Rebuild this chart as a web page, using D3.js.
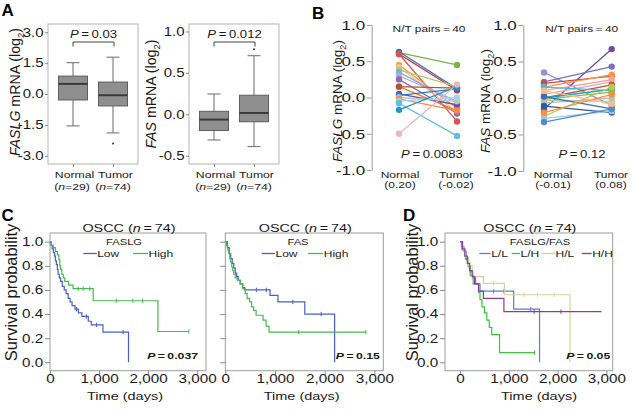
<!DOCTYPE html>
<html><head><meta charset="utf-8">
<script src="https://cdn.jsdelivr.net/npm/d3@7"></script>
<style>body{margin:0;background:#fff}svg{display:block}</style>
</head><body>
<script>
// ================= DATA =================
const groups = ["Normal", "Tumor"];
const groupN = ["29", "74"];
// boxplot stats per group: [lower whisker, Q1, median, Q3, upper whisker]
const faslgBox = [[-1.55, -0.29, 0.49, 0.87, 1.52], [-1.89, -0.58, -0.06, 0.58, 1.79]];
const faslgOutliers = [[], [-2.4]];
const fasBox = [[-0.31, -0.196, -0.064, 0.036, 0.245], [-0.39, -0.09, 0.016, 0.23, 0.707]];
const fasOutliers = [[], [0.785]];
const faslgTicksA = [-3, -1.5, 0, 1.5, 3];
const fasTicksA = [-0.5, 0, 0.5, 1.0];
const pValuesA = ["0.03", "0.012"];

// panel B: paired samples
const pairFaslgNormal = [0.62, 0.63, 0.60, 0.60, 0.45, 0.42, 0.38, 0.35, 0.30, 0.25, 0.15, 0.15, 0.05, 0.03, 0.00, -0.02, -0.05, -0.08, -0.17, -0.50];
const pairFaslgTumor  = [0.45, 0.12, 0.10, -0.33, -0.15, -0.20, 0.15, -0.08, -0.05, -0.22, -0.18, 0.13, -0.10, 0.12, -0.05, -0.18, 0.00, -0.53, 0.15, 0.18];
const pairFasNormal = [0.35, -0.15, 0.22, 0.20, 0.15, 0.10, 0.05, 0.00, 0.00, 0.15, -0.02, -0.03, -0.07, 0.02, -0.11, -0.25, -0.28, -0.33, -0.20, 0.10];
const pairFasTumor  = [-0.10, 0.67, 0.43, 0.30, 0.32, 0.25, 0.22, 0.18, 0.12, 0.10, 0.08, -0.05, 0.00, -0.15, -0.20, 0.15, -0.18, -0.15, 0.05, -0.08];
const pairMeansFaslg = ["0.20", "-0.02"];
const pairMeansFas = ["-0.01", "0.08"];
const pairCount = "40";
const pairTicks = [-1, -0.5, 0, 0.5, 1];
const pValuesB = ["0.0083", "0.12"];

// panels C, D: Kaplan-Meier steps [time(days), survival]
const kmTicksX = [0, 1000, 2000, 3000];
const kmTicksY = [0, 0.2, 0.4, 0.6, 0.8, 1.0];
const kmFaslgLow = [[0,1],[20,0.97],[45,0.94],[70,0.91],[95,0.88],[110,0.84],[130,0.81],[150,0.77],[165,0.73],[190,0.70],[215,0.67],[250,0.63],[290,0.60],[330,0.57],[370,0.53],[410,0.50],[450,0.47],[510,0.44],[580,0.41],[650,0.38],[780,0.34],[840,0.31],[1080,0.25],[1600,0]];
const kmFaslgLowEnd = 1600, kmFaslgLowCens = [540, 740, 950, 1490];
const kmFaslgHigh = [[0,1],[30,0.97],[70,0.95],[110,0.92],[150,0.89],[180,0.85],[200,0.80],[215,0.77],[240,0.73],[270,0.70],[300,0.67],[380,0.64],[470,0.61],[880,0.51],[2200,0.255]];
const kmFaslgHighEnd = 2830, kmFaslgHighCens = [575, 675, 810, 1350, 1690, 1890, 2830];
const kmFasLow = [[0,1],[40,0.95],[80,0.90],[110,0.86],[140,0.82],[170,0.78],[200,0.74],[230,0.71],[260,0.68],[300,0.65],[350,0.62],[390,0.60],[900,0.555],[1060,0.5],[1600,0.4],[2200,0]];
const kmFasLowEnd = 2200, kmFasLowCens = [625, 825, 1360, 1930];
const kmFasHigh = [[0,1],[25,0.97],[50,0.93],[70,0.90],[90,0.86],[110,0.83],[130,0.79],[150,0.76],[170,0.73],[200,0.70],[240,0.68],[300,0.65],[350,0.61],[400,0.57],[440,0.53],[490,0.50],[530,0.46],[570,0.43],[620,0.39],[760,0.35],[820,0.30],[880,0.25]];
const kmFasHighEnd = 2830, kmFasHighCens = [1475, 2830];
const kmLL = [[0,1],[30,0.96],[80,0.92],[130,0.85],[170,0.80],[210,0.75],[260,0.70],[320,0.65],[410,0.59],[1100,0.44],[1630,0]];
const kmLLEnd = 1630, kmLLCens = [690, 900, 1450];
const kmLH = [[0,1],[40,0.93],[110,0.86],[170,0.79],[210,0.72],[270,0.65],[380,0.58],[410,0.52],[450,0.46],[500,0.41],[550,0.35],[600,0.29],[650,0.23],[810,0.08]];
const kmLHEnd = 1530, kmLHCens = [1530];
const kmHL = [[0,1],[60,0.93],[120,0.87],[180,0.80],[250,0.71],[480,0.655],[910,0.56],[2255,0]];
const kmHLEnd = 2255, kmHLCens = [690, 1310, 1590, 1930];
const kmHH = [[0,1],[50,0.94],[100,0.88],[150,0.82],[200,0.76],[250,0.71],[300,0.65],[380,0.59],[480,0.53],[900,0.42]];
const kmHHEnd = 2900, kmHHCens = [1520, 2070];
const pValuesC = ["0.037", "0.15"];
const pValueD = "0.05";
const kmN = "74";

// ================= STYLE =================
const SX = 1.25; // horizontal text stretch of the original figure
const FONT = "'Liberation Sans', Arial, Helvetica, sans-serif";
const TS = "\u2009";
const pairColorsFaslg = ["#7fb241","#3a6fc0","#c8302c","#d9534f","#f5a04a","#f9c08a","#a8cf6a","#72b2e0","#b9a6d8","#8a6bbd","#ee7d2b","#b0553a","#6d4fa3","#2b7bbf","#c2c2c2","#fb8c3c","#a5d3ea","#63bce0","#2597c0","#e9b6bd"];
const pairColorsFas = ["#a18fcc","#6b4d9e","#7d6fc0","#d8473c","#f39a3a","#f2a59e","#e8a8bc","#b65a3c","#2aa0bf","#4cb6da","#86bd4c","#a9d4a3","#bdbdbd","#3b6fb8","#2b5aa3","#b7ca4c","#a2c6ea","#5089c8","#fb8d3d","#fcbd86"];
const cBlue = "#4a5fc6", cGreen = "#45bb50";
const dColors = ["#5b7ed8", "#3ec43e", "#d8d29a", "#8b3c9c"];

const f1 = v => v.toFixed(1);
const fK = d3.format(",");

const svg = d3.select("body").append("svg").attr("width", 632).attr("height", 410)
  .attr("font-family", FONT);

function txt(g, x, y, parts, o = {}) {
  const size = o.size || 11;
  const t = g.append("text")
    .attr("transform", o.rot ? `translate(${x},${y}) rotate(-90)` : `translate(${x},${y}) scale(${o.sx || SX},1)`)
    .attr("text-anchor", o.anchor || "middle")
    .attr("font-size", size)
    .attr("fill", o.fill || "#1a1a1a");
  if (o.weight) t.attr("font-weight", o.weight);
  const arr = typeof parts === "string" ? [[parts, ""]] : parts;
  let shift = 0;
  arr.forEach(([s, st]) => {
    const ts = t.append("tspan").text(s);
    if (st === "i") ts.attr("font-style", "italic");
    if (st === "sub") { ts.attr("font-size", size * 0.68).attr("dy", size * 0.3); shift = size * 0.3; }
    else if (shift) { ts.attr("dy", -shift); shift = 0; }
  });
  return t;
}

function styleAxis(ax, size, dx, lineColor) {
  ax.selectAll(".tick line").attr("stroke", lineColor || "#8a8a8a");
  ax.selectAll(".tick text")
    .attr("font-family", FONT).attr("font-size", size).attr("fill", "#1a1a1a")
    .attr("transform", `scale(${SX},1)`)
    .attr("x", dx / SX);
}

// ================= PANEL A =================
function boxPanel(c) {
  const g = svg.append("g");
  const x = d3.scalePoint().domain(groups).range([c.x0, c.x1]).padding(0.625);
  const y = d3.scaleLinear().domain(c.domain).range([c.y1, c.y0]);
  g.append("rect").attr("x", c.x0).attr("y", c.y0).attr("width", c.x1 - c.x0).attr("height", c.y1 - c.y0)
    .attr("fill", "none").attr("stroke", "#b3b3b3");
  const ax = g.append("g").attr("transform", `translate(${c.x0},0)`)
    .call(d3.axisLeft(y).tickValues(c.ticks).tickFormat(f1).tickSize(3).tickSizeOuter(0));
  ax.select(".domain").remove();
  styleAxis(ax, 12, -4.5);
  const bx = g.append("g").attr("transform", `translate(0,${c.y1})`)
    .call(d3.axisBottom(x).tickSize(3).tickSizeOuter(0).tickFormat(""));
  bx.select(".domain").remove();
  bx.selectAll(".tick line").attr("stroke", "#8a8a8a");
  const bw = 29, cw = 13;
  groups.forEach((grp, i) => {
    const [lo, q1, md, q3, hi] = c.stats[i];
    const cx = x(grp);
    g.append("line").attr("x1", cx).attr("x2", cx).attr("y1", y(hi)).attr("y2", y(q3)).attr("stroke", "#6a6a6a");
    g.append("line").attr("x1", cx).attr("x2", cx).attr("y1", y(q1)).attr("y2", y(lo)).attr("stroke", "#6a6a6a");
    [hi, lo].forEach(v => g.append("line").attr("x1", cx - cw / 2).attr("x2", cx + cw / 2)
      .attr("y1", y(v)).attr("y2", y(v)).attr("stroke", "#6a6a6a"));
    g.append("rect").attr("x", cx - bw / 2).attr("y", y(q3)).attr("width", bw).attr("height", y(q1) - y(q3))
      .attr("fill", "#8f8f8f").attr("stroke", "#5e5e5e");
    g.append("line").attr("x1", cx - bw / 2).attr("x2", cx + bw / 2).attr("y1", y(md)).attr("y2", y(md))
      .attr("stroke", "#3a3a3a").attr("stroke-width", 2);
    c.outliers[i].forEach(v => g.append("circle").attr("cx", cx).attr("cy", y(v)).attr("r", 1).attr("fill", "#333"));
    txt(g, cx + (i === 0 ? 1.5 : 2.5), 178, grp, { size: 9.8 });
    txt(g, cx + (i === 0 ? -1 : 0), 189.5, [["("], ["n", "i"], ["=" + groupN[i] + ")"]], { size: 9.8 });
  });
  const bxL = x(groups[0]), bxR = x(groups[1]) + 1;
  g.append("path").attr("d", `M${bxL},46.5V42H${bxR}V46.5`).attr("fill", "none").attr("stroke", "#444");
  txt(g, (bxL + bxR) / 2, 38, [["P", "i"], [TS + "=" + TS + c.p]], { size: 10.5 });
  txt(svg, c.labX, c.labY, [[c.gene, "i"], [" mRNA (log"], ["2", "sub"], [")"]], { rot: true, size: 14.2 });
}
boxPanel({ x0: 48, x1: 138, y0: 24, y1: 164, domain: [-3.4, 3.4], ticks: faslgTicksA, stats: faslgBox,
  outliers: faslgOutliers, p: pValuesA[0], gene: "FASLG", labX: 19.5, labY: 92 });
boxPanel({ x0: 189, x1: 279, y0: 24, y1: 164, domain: [-0.6, 1.09], ticks: fasTicksA, stats: fasBox,
  outliers: fasOutliers, p: pValuesA[1], gene: "FAS", labX: 156, labY: 94 });

// ================= PANEL B =================
function pairPanel(c) {
  const g = svg.append("g");
  const y = d3.scaleLinear().domain([-1, 1]).range([c.yb, c.yt]);
  const x = d3.scalePoint().domain(groups).range([c.xn, c.xt]);
  const ax = g.append("g").attr("transform", `translate(${c.ax},0)`)
    .call(d3.axisLeft(y).tickValues(pairTicks).tickFormat(f1).tickSize(5).tickSizeOuter(0));
  ax.select(".domain").attr("stroke", "#9a9a9a");
  styleAxis(ax, 13.6, -6.5, "#9a9a9a");
  c.normal.forEach((v, i) => {
    g.append("line").attr("x1", x(groups[0])).attr("y1", y(v)).attr("x2", x(groups[1])).attr("y2", y(c.tumor[i]))
      .attr("stroke", c.colors[i]).attr("stroke-width", 1.3);
  });
  c.normal.forEach((v, i) => {
    g.append("circle").attr("cx", x(groups[0])).attr("cy", y(v)).attr("r", 3.2).attr("fill", c.colors[i]);
    g.append("circle").attr("cx", x(groups[1])).attr("cy", y(c.tumor[i])).attr("r", 3.2).attr("fill", c.colors[i]);
  });
  txt(g, c.titleX, 32, "N/T pairs" + TS + "=" + TS + pairCount, { size: 9.5 });
  txt(g, c.pX, 157.5, [["P", "i"], [TS + "=" + TS + c.p]], { size: 10.5 });
  groups.forEach((grp, i) => {
    txt(g, c.labXs[i], 177.5, grp, { size: 9.6 });
    txt(g, c.labXs[i], 187.5, "(" + c.means[i] + ")", { size: 9.6 });
  });
  txt(svg, c.labX, 101, [[c.gene, "i"], [" mRNA (log"], ["2", "sub"], [")"]], { rot: true, size: 13.5 });
}
pairPanel({ ax: 371.7, yt: 25, yb: 170, xn: 399, xt: 457, normal: pairFaslgNormal, tumor: pairFaslgTumor,
  colors: pairColorsFaslg, titleX: 429, pX: 432, p: pValuesB[0], labXs: [400, 456], means: pairMeansFaslg,
  gene: "FASLG", labX: 341.5 });
pairPanel({ ax: 523.3, yt: 25, yb: 171, xn: 544, xt: 611.7, normal: pairFasNormal, tumor: pairFasTumor,
  colors: pairColorsFas, titleX: 581.7, pX: 582, p: pValuesB[1], labXs: [553, 611], means: pairMeansFas,
  gene: "FAS", labX: 489.5 });

// ================= PANELS C, D =================
function kmPanel(c) {
  const g = svg.append("g");
  const x = d3.scaleLinear().domain(c.xdom).range([c.x0, c.x1]);
  const y = d3.scaleLinear().domain([-0.07, 1.072]).range([370.7, 233]);
  g.append("rect").attr("x", c.x0).attr("y", 233).attr("width", c.x1 - c.x0).attr("height", 370.7 - 233)
    .attr("fill", "none").attr("stroke", "#9d9d9d");
  const line = d3.line().x(d => x(d[0])).y(d => y(d[1])).curve(d3.curveStepAfter);
  c.curves.forEach(cv => {
    const pts = cv.steps.concat([[cv.end, cv.steps[cv.steps.length - 1][1]]]);
    g.append("path").attr("d", line(pts)).attr("fill", "none").attr("stroke", cv.color).attr("stroke-width", 1.2);
    cv.cens.forEach(t => {
      let s = cv.steps[0][1];
      cv.steps.forEach(d => { if (d[0] <= t) s = d[1]; });
      g.append("line").attr("x1", x(t)).attr("x2", x(t)).attr("y1", y(s) - 2.2).attr("y2", y(s) + 2.2)
        .attr("stroke", cv.color).attr("stroke-width", 1);
    });
  });
  const ay = g.append("g").attr("transform", `translate(${c.x0},0)`)
    .call(d3.axisLeft(y).tickValues(kmTicksY).tickFormat(c.yLabels ? f1 : "").tickSize(5).tickSizeOuter(0));
  ay.select(".domain").remove();
  styleAxis(ay, 12.2, -6.8);
  const axb = g.append("g").attr("transform", `translate(0,370.7)`)
    .call(d3.axisBottom(x).tickValues(kmTicksX).tickFormat(fK).tickSize(4).tickSizeOuter(0));
  axb.select(".domain").remove();
  axb.selectAll(".tick line").attr("stroke", "#8a8a8a");
  axb.selectAll(".tick text").attr("font-family", FONT).attr("font-size", 12.2).attr("fill", "#1a1a1a")
    .attr("transform", `scale(${SX},1)`).attr("y", 12.3).attr("dy", 0);
  const mid = (c.x0 + c.x1) / 2;
  txt(g, c.timeX, 400, "Time (days)", { size: 11.6 });
  txt(g, mid + 1, 231.5, [["OSCC ("], ["n", "i"], [TS + "=" + TS + kmN + ")"]], { size: 11.5 });
  txt(g, c.legHeadX, 245, c.legHead, { size: 9 });
  c.curves.forEach((cv, i) => {
    const [l0, l1] = c.legLines[i];
    g.append("line").attr("x1", l0).attr("x2", l1).attr("y1", 253.5).attr("y2", 253.5).attr("stroke", cv.color).attr("stroke-width", 1.3);
    txt(g, l1 + 0.5, 257, cv.name, { size: 9.6, anchor: "start" });
  });
  txt(g, c.x1 - c.pInset, 359, [["P", "i"], [TS + "=" + TS + c.p]], { size: 9.8, anchor: "end", weight: "bold" });
  if (c.ylab) txt(svg, c.ylabX, 292.5, "Survival probability", { rot: true, size: 16.4 });
}
kmPanel({ x0: 50, x1: 206, xdom: [0, 3180], yLabels: true, timeX: 125, legHeadX: 124, legHead: "FASLG",
  legLines: [[83.3, 96.7], [133, 148]], p: pValuesC[0], pInset: 8, ylab: true, ylabX: 16.5,
  curves: [
    { name: "Low", steps: kmFaslgLow, end: kmFaslgLowEnd, cens: kmFaslgLowCens, color: cBlue },
    { name: "High", steps: kmFaslgHigh, end: kmFaslgHighEnd, cens: kmFaslgHighCens, color: cGreen }] });
kmPanel({ x0: 225.3, x1: 383.3, xdom: [0, 3180], yLabels: false, timeX: 301.7, legHeadX: 298, legHead: "FAS",
  legLines: [[261.7, 275], [308, 323.3]], p: pValuesC[1], pInset: 3.5, ylab: false,
  curves: [
    { name: "Low", steps: kmFasLow, end: kmFasLowEnd, cens: kmFasLowCens, color: cBlue },
    { name: "High", steps: kmFasHigh, end: kmFasHighEnd, cens: kmFasHighCens, color: cGreen }] });
kmPanel({ x0: 445, x1: 612.7, xdom: [-307, 3129], yLabels: true, timeX: 539, legHeadX: 540, legHead: "FASLG/FAS",
  legLines: [[479.3, 490.7], [511.7, 520], [541.7, 555], [581.7, 591.7]], p: pValueD, pInset: 2.5, ylab: true, ylabX: 418,
  curves: [
    { name: "L/L", steps: kmLL, end: kmLLEnd, cens: kmLLCens, color: dColors[0] },
    { name: "L/H", steps: kmLH, end: kmLHEnd, cens: kmLHCens, color: dColors[1] },
    { name: "H/L", steps: kmHL, end: kmHLEnd, cens: kmHLCens, color: dColors[2] },
    { name: "H/H", steps: kmHH, end: kmHHEnd, cens: kmHHCens, color: dColors[3] }] });

// ================= PANEL LETTERS =================
[["A", 1.5, 16], ["B", 312, 19], ["C", 1.5, 220.5], ["D", 403, 221]].forEach(([s, x, y]) =>
  txt(svg, x, y, s, { size: 17, weight: "bold", anchor: "start", sx: 1, fill: "#000" }));
</script>
</body></html>
